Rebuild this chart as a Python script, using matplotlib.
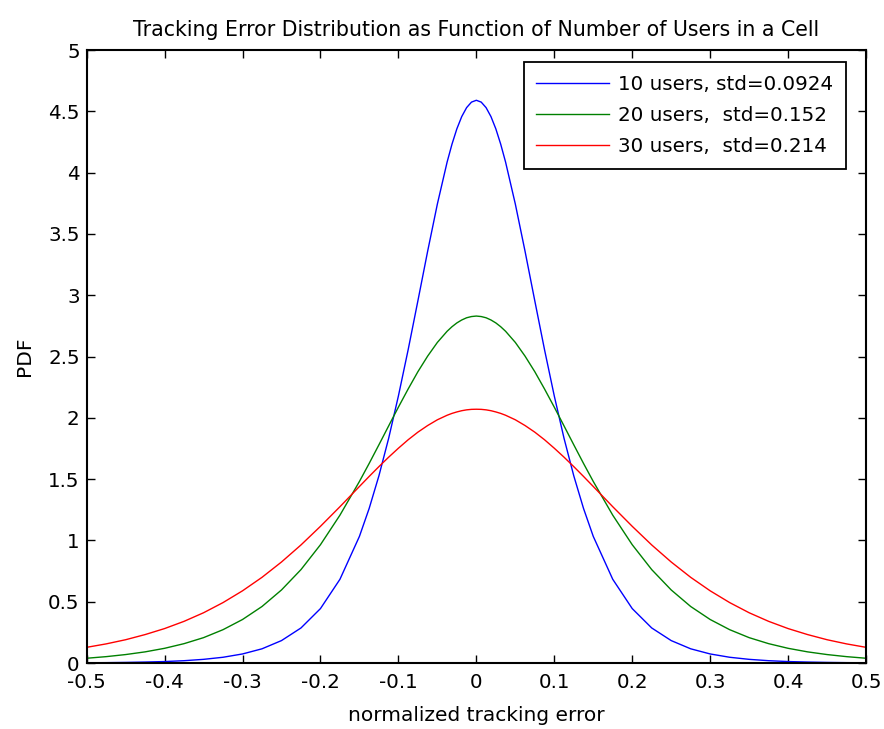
import matplotlib.pyplot as plt
import numpy as np

plt.rcParams['font.family'] = ['DejaVu Sans']

# x positions the curves were read at (finer near the peak)
x = [-0.5, -0.475, -0.45, -0.425, -0.4, -0.375, -0.35, -0.325, -0.3, -0.275,
     -0.25, -0.225, -0.2, -0.175,
     -0.15, -0.1375, -0.125, -0.1125, -0.1, -0.0875, -0.075, -0.0625, -0.05,
     -0.0375, -0.03125, -0.025, -0.01875, -0.0125, -0.00625, 0.0,
     0.00625, 0.0125, 0.01875, 0.025, 0.03125, 0.0375, 0.05, 0.0625,
     0.075, 0.0875, 0.1, 0.1125, 0.125, 0.1375, 0.15,
     0.175, 0.2, 0.225, 0.25, 0.275, 0.3, 0.325, 0.35, 0.375, 0.4, 0.425,
     0.45, 0.475, 0.5]

pdf_10 = [0.002, 0.003, 0.005, 0.008, 0.012, 0.019, 0.030, 0.047, 0.074, 0.116,
          0.183, 0.286, 0.444, 0.683,
          1.033, 1.261, 1.527, 1.833, 2.178, 2.555, 2.954, 3.358, 3.744,
          4.086, 4.232, 4.357, 4.457, 4.530, 4.575, 4.590,
          4.575, 4.530, 4.457, 4.357, 4.232, 4.086, 3.744, 3.358,
          2.954, 2.555, 2.178, 1.833, 1.527, 1.261, 1.033,
          0.683, 0.444, 0.286, 0.183, 0.116, 0.074, 0.047, 0.030, 0.019, 0.012,
          0.008, 0.005, 0.003, 0.002]

pdf_20 = [0.039, 0.052, 0.069, 0.091, 0.120, 0.158, 0.207, 0.272, 0.355, 0.461,
          0.596, 0.762, 0.965, 1.206,
          1.481, 1.628, 1.780, 1.934, 2.087, 2.235, 2.376, 2.503, 2.615,
          2.706, 2.743, 2.774, 2.798, 2.816, 2.826, 2.830,
          2.826, 2.816, 2.798, 2.774, 2.743, 2.706, 2.615, 2.503,
          2.376, 2.235, 2.087, 1.934, 1.780, 1.628, 1.481,
          1.206, 0.965, 0.762, 0.596, 0.461, 0.355, 0.272, 0.207, 0.158, 0.120,
          0.091, 0.069, 0.052, 0.039]

pdf_30 = [0.128, 0.156, 0.190, 0.232, 0.281, 0.340, 0.410, 0.493, 0.589, 0.699,
          0.824, 0.963, 1.115, 1.275,
          1.440, 1.522, 1.602, 1.679, 1.752, 1.821, 1.883, 1.937, 1.984,
          2.021, 2.036, 2.048, 2.058, 2.065, 2.069, 2.070,
          2.069, 2.065, 2.058, 2.048, 2.036, 2.021, 1.984, 1.937,
          1.883, 1.821, 1.752, 1.679, 1.602, 1.522, 1.440,
          1.275, 1.115, 0.963, 0.824, 0.699, 0.589, 0.493, 0.410, 0.340, 0.281,
          0.232, 0.190, 0.156, 0.128]

labels = ['10 users, std=0.0924', '20 users,  std=0.152', '30 users,  std=0.214']
colors = ['#0000ff', '#008000', '#ff0000']

fig = plt.figure(figsize=(8.84, 7.29), dpi=100)
ax = fig.add_axes([0.098, 0.0905, 0.8817, 0.8409])

for y, lab, c in zip([pdf_10, pdf_20, pdf_30], labels, colors):
    ax.plot(x, y, color=c, lw=1.0, label=lab)

ax.set_xlim(-0.5, 0.5)
ax.set_ylim(0, 5)
xt = np.round(np.arange(-0.5, 0.51, 0.1), 1)
ax.set_xticks(xt)
ax.set_xticklabels(['0' if v == 0 else f'{v:g}' for v in xt])
yt = np.arange(0, 5.01, 0.5)
ax.set_yticks(yt)
ax.set_yticklabels([f'{v:g}' for v in yt])
ax.tick_params(direction='in', top=True, right=True, length=6, width=1,
               labelsize=14.3)
ax.tick_params(axis='x', pad=7)
ax.tick_params(axis='y', pad=5)
for s in ax.spines.values():
    s.set_linewidth(1.5)

ax.set_title('Tracking Error Distribution as Function of Number of Users in a Cell',
             fontsize=14.8, pad=10)
ax.set_xlabel('normalized tracking error', fontsize=14.5, labelpad=10)
ax.set_ylabel('PDF', fontsize=14.5, labelpad=10)

leg = ax.legend(loc='upper right', bbox_to_anchor=(0.974, 0.980),
                fontsize=14.3, fancybox=False, framealpha=1,
                edgecolor='black', borderaxespad=0, handlelength=3.7,
                handletextpad=0.45, labelspacing=0.62, borderpad=0.62)
leg.get_frame().set_linewidth(1.3)

fig.savefig('out.png', dpi=100)
